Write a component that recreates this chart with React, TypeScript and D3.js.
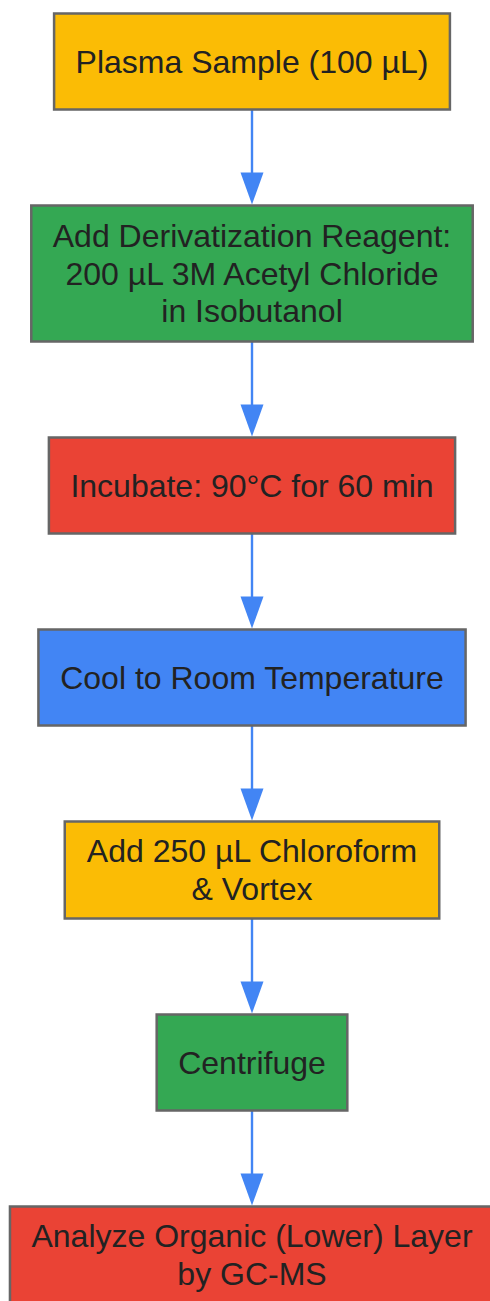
import React from "react";
import * as d3 from "d3";

const steps: string[][] = [
  ["Plasma Sample (100 µL)"],
  ["Add Derivatization Reagent:", "200 µL 3M Acetyl Chloride", "in Isobutanol"],
  ["Incubate: 90°C for 60 min"],
  ["Cool to Room Temperature"],
  ["Add 250 µL Chloroform", "& Vortex"],
  ["Centrifuge"],
  ["Analyze Organic (Lower) Layer", "by GC-MS"],
];
const fills: string[] = ["#FBBC05", "#34A853", "#EA4335", "#4285F4", "#FBBC05", "#34A853", "#EA4335"];

const W = 490;
const H = 1301;
const FS = 32;
const FONT = `${FS}px "Liberation Sans", Arial, sans-serif`;
const LINE_H = 37.5;
const PAD_X = 21.5;
const GAP = 96;
const TOP = 13.5;
const CX = 252;

function measure(t: string): number {
  const c = document.createElement("canvas").getContext("2d")!;
  c.font = FONT;
  return c.measureText(t).width;
}

export default function App() {
  const heights = steps.map((l) => Math.max(96, 39 * l.length + 19));
  const tops: number[] = [];
  let y = TOP;
  heights.forEach((h) => {
    tops.push(y);
    y += h + GAP;
  });
  const widths = steps.map((l) => d3.max(l, (t) => measure(t))! + 2 * PAD_X);
  const idx = d3.range(steps.length);

  return (
    <svg width={W} height={H} style={{ position: "absolute", left: 0, top: 0, display: "block" }}>
      <rect width={W} height={H} fill="#fff" />
      {idx.slice(0, -1).map((i) => {
        const y1 = tops[i] + heights[i];
        const y2 = tops[i + 1];
        const headL = 33;
        return (
          <g key={"e" + i}>
            <line x1={CX} x2={CX} y1={y1} y2={y2 - headL + 2} stroke="#4285F4" strokeWidth={2.4} />
            <path
              d={`M${CX - 11.5},${y2 - headL} L${CX + 11.5},${y2 - headL} L${CX},${y2 - 1} Z`}
              fill="#4285F4"
            />
          </g>
        );
      })}
      {idx.map((i) => {
        const h = heights[i];
        const w = widths[i];
        const cy = tops[i] + h / 2;
        const n = steps[i].length;
        return (
          <g key={"n" + i}>
            <rect x={CX - w / 2} y={tops[i]} width={w} height={h} fill={fills[i]} stroke="#666666" strokeWidth={2.5} />
            {steps[i].map((t, j) => (
              <text
                key={j}
                x={CX}
                y={cy + 0.35 * FS + (j - (n - 1) / 2) * LINE_H}
                textAnchor="middle"
                fill="#222222"
                style={{ font: FONT }}
              >
                {t}
              </text>
            ))}
          </g>
        );
      })}
    </svg>
  );
}
